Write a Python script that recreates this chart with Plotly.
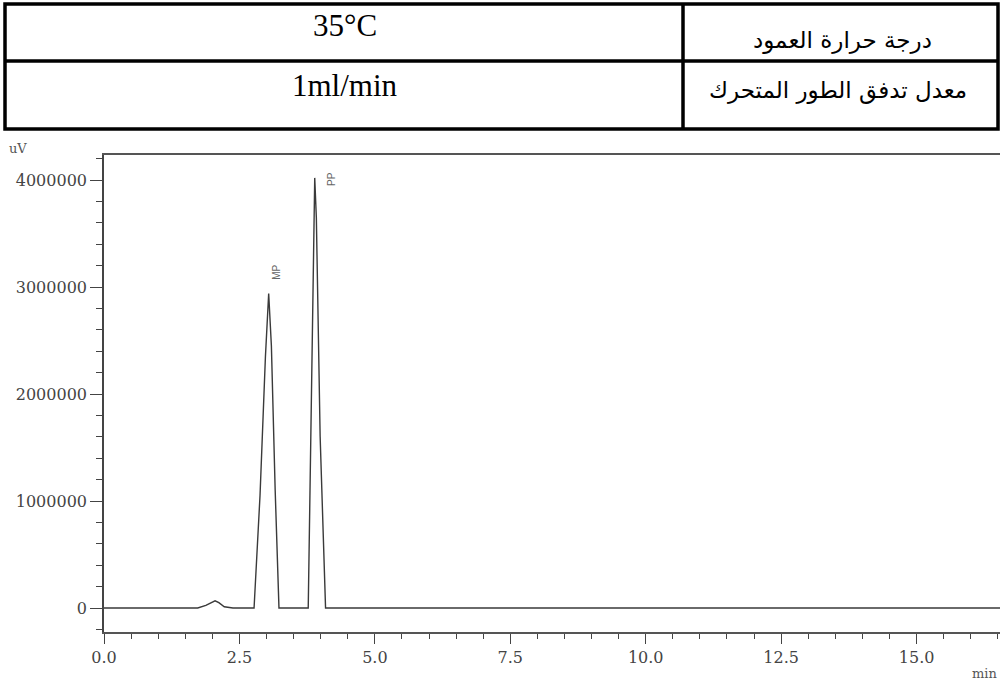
import plotly.graph_objects as go

# ---- data ----
table_values = ["35°C", "1ml/min"]
table_params = ["درجة حرارة العمود", "معدل تدفق الطور المتحرك"]

time_min = [0.0, 1.73, 1.88, 1.98, 2.05, 2.12, 2.22, 2.38,
            2.77, 2.88, 2.98, 3.04, 3.09, 3.16, 3.23,
            3.77, 3.82, 3.87, 3.89, 3.92, 3.99, 4.09, 16.6]
signal_uv = [0, 0, 25000, 55000, 68000, 50000, 12000, 0,
             0, 1050000, 2350000, 2940000, 2450000, 1100000, 0,
             0, 1850000, 3750000, 4020000, 3650000, 1600000, 0, 0]

peak_names = ["MP", "PP"]
peak_label_x = [3.17, 4.21]
peak_label_y = [3140000, 4010000]

x_tickvals = [0.0, 2.5, 5.0, 7.5, 10.0, 12.5, 15.0]
x_ticktext = ["0.0", "2.5", "5.0", "7.5", "10.0", "12.5", "15.0"]
y_tickvals = [0, 1000000, 2000000, 3000000, 4000000]
y_ticktext = ["0", "1000000", "2000000", "3000000", "4000000"]

W, H = 1000, 683
def px(x):
    return x / W
def py(y):
    return 1 - y / H

fig = go.Figure()
fig.add_trace(go.Scatter(x=time_min, y=signal_uv, mode="lines",
                         line=dict(color="#3a3a3a", width=1.4),
                         showlegend=False, hoverinfo="skip"))

for name, lx, ly in zip(peak_names, peak_label_x, peak_label_y):
    fig.add_annotation(x=lx, y=ly, xref="x", yref="y", text=name,
                       showarrow=False, textangle=-90,
                       xanchor="center", yanchor="middle",
                       font=dict(family="Liberation Sans", size=10, color="#666"))

tickfont = "DejaVu Serif, Liberation Serif, serif"
serif = "Liberation Serif, Times New Roman, serif"
fig.update_layout(
    width=W, height=H,
    margin=dict(l=0, r=0, t=0, b=0, autoexpand=False),
    paper_bgcolor="white", plot_bgcolor="white",
    xaxis=dict(domain=[px(104), 1.0], range=[0, 16.54], automargin=False,
               tickvals=x_tickvals, ticktext=x_ticktext,
               ticks="outside", ticklen=10, tickwidth=1.3, tickcolor="#444",
               minor=dict(dtick=0.5, tick0=0, ticks="outside", ticklen=5,
                          tickwidth=1.2, tickcolor="#444", showgrid=False),
               showline=True, linecolor="#555", linewidth=1.6, mirror=True,
               showgrid=False, zeroline=False,
               tickfont=dict(family=tickfont, size=16, color="#444")),
    yaxis=dict(domain=[py(632), py(155)], range=[-224000, 4234000], automargin=False,
               tickvals=y_tickvals, ticktext=y_ticktext,
               ticks="outside", ticklen=12, tickwidth=1.3, tickcolor="#444",
               minor=dict(dtick=200000, tick0=0, ticks="outside", ticklen=6,
                          tickwidth=1.2, tickcolor="#444", showgrid=False),
               showline=True, linecolor="#444", linewidth=1.6,
               showgrid=False, zeroline=False,
               tickfont=dict(family=tickfont, size=16, color="#444")),
)

# ---- table at top ----
lw = 3.5
fig.add_shape(type="rect", xref="paper", yref="paper",
              x0=px(5), x1=px(998), y0=py(129), y1=py(4),
              line=dict(color="black", width=lw))
fig.add_shape(type="line", xref="paper", yref="paper",
              x0=px(5), x1=px(998), y0=py(61), y1=py(61),
              line=dict(color="black", width=lw))
fig.add_shape(type="line", xref="paper", yref="paper",
              x0=px(683), x1=px(683), y0=py(4), y1=py(129),
              line=dict(color="black", width=lw))

row_val_y = [25, 85]
row_par_y = [40, 91]
row_par_x = [842, 838]
for v, p, yv, yp, xp in zip(table_values, table_params, row_val_y, row_par_y, row_par_x):
    fig.add_annotation(x=px(345), y=py(yv), xref="paper", yref="paper",
                       text=v, showarrow=False, xanchor="center", yanchor="middle",
                       font=dict(family=serif, size=31, color="black"))
    fig.add_annotation(x=px(xp), y=py(yp), xref="paper", yref="paper",
                       text=p, showarrow=False, xanchor="center", yanchor="middle",
                       font=dict(family="DejaVu Sans, Noto Sans", size=23, color="black"))

# axis unit labels
fig.add_annotation(x=px(7), y=py(148), xref="paper", yref="paper", text="uV",
                   showarrow=False, xanchor="left", yanchor="middle",
                   font=dict(family=tickfont, size=13, color="#555"))
fig.add_annotation(x=px(999), y=py(673), xref="paper", yref="paper", text="min",
                   showarrow=False, xanchor="right", yanchor="middle",
                   font=dict(family=tickfont, size=13, color="#555"))

fig.write_html("out.html", config={"displayModeBar": False},
               post_script="document.body.style.margin='0';")
